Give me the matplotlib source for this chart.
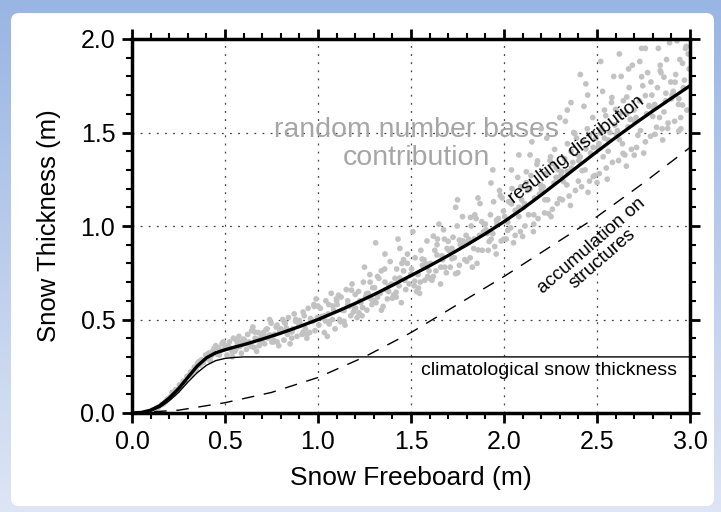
import numpy as np
import matplotlib
matplotlib.use('Agg')
import matplotlib.pyplot as plt
from matplotlib.patches import FancyBboxPatch

# curves (freeboard m -> thickness m)
res_x = [0.0, 0.05, 0.1, 0.15, 0.2, 0.25, 0.3, 0.35, 0.4, 0.45, 0.5, 0.55, 0.6, 0.7, 0.8, 0.9,
         1.0, 1.1, 1.2, 1.3, 1.4, 1.5, 1.6, 1.7, 1.8, 1.9, 2.0, 2.1, 2.2, 2.3, 2.4, 2.5,
         2.6, 2.7, 2.8, 2.9, 3.0]
res_y = [0.0, 0.003, 0.015, 0.04, 0.08, 0.13, 0.19, 0.25, 0.295, 0.322, 0.338, 0.352, 0.365,
         0.395, 0.427, 0.462, 0.5, 0.542, 0.586, 0.633, 0.683, 0.735, 0.787, 0.842, 0.899,
         0.959, 1.023, 1.092, 1.166, 1.243, 1.321, 1.398, 1.473, 1.545, 1.615, 1.683, 1.75]

clim_x = [0.0, 0.05, 0.1, 0.15, 0.2, 0.25, 0.3, 0.35, 0.4, 0.45, 0.5, 0.55, 0.6, 0.7, 3.0]
clim_y = [0.0, 0.002, 0.01, 0.03, 0.065, 0.11, 0.165, 0.215, 0.255, 0.28, 0.292, 0.297, 0.3, 0.3, 0.3]

acc_x = [0.0, 0.25, 0.5, 0.75, 1.0, 1.25, 1.5, 1.75, 2.0, 2.25, 2.5, 2.75, 3.0]
acc_y = [0.0, 0.015, 0.055, 0.11, 0.19, 0.3, 0.43, 0.58, 0.73, 0.89, 1.05, 1.23, 1.42]

# scattered "random" contributions, grouped by freeboard bin
sx = [0.11, 0.13, 0.14, 0.16, 0.17, 0.18, 0.19,
      0.205, 0.215, 0.225, 0.235, 0.245, 0.255, 0.265, 0.275, 0.285, 0.295,
      0.305, 0.315, 0.322, 0.335, 0.345, 0.352, 0.365, 0.374, 0.383, 0.396, 0.33, 0.36,
      0.405, 0.412, 0.425, 0.433, 0.441, 0.456, 0.463, 0.472, 0.484, 0.493, 0.42, 0.45, 0.47, 0.49,
      0.503, 0.511, 0.524, 0.532, 0.545, 0.553, 0.567, 0.575, 0.588, 0.596, 0.518, 0.54, 0.56, 0.58,
      0.604, 0.615, 0.622, 0.638, 0.643, 0.657, 0.662, 0.679, 0.684, 0.697, 0.628, 0.65, 0.67, 0.69,
      0.706, 0.713, 0.727, 0.731, 0.748, 0.752, 0.766, 0.775, 0.789, 0.794, 0.72, 0.74, 0.76, 0.78,
      0.803, 0.817, 0.824, 0.836, 0.841, 0.859, 0.865, 0.872, 0.887, 0.898, 0.81, 0.85, 0.88, 0.83,
      0.902, 0.914, 0.926, 0.933, 0.947, 0.955, 0.961, 0.978, 0.984, 0.996, 0.92, 0.94, 0.97, 0.99,
      1.005, 1.013, 1.021, 1.034, 1.042, 1.055, 1.063, 1.071, 1.084, 1.092, 1.036, 1.058, 1.078, 1.099, 1.05,
      1.103, 1.116, 1.124, 1.131, 1.145, 1.152, 1.168, 1.176, 1.183, 1.197, 1.11, 1.14, 1.16, 1.19,
      1.202, 1.218, 1.225, 1.237, 1.244, 1.256, 1.263, 1.279, 1.285, 1.294, 1.21, 1.23, 1.27, 1.29, 1.25,
      1.304, 1.312, 1.327, 1.335, 1.341, 1.358, 1.366, 1.373, 1.388, 1.395, 1.31, 1.32, 1.35, 1.38, 1.36,
      1.406, 1.414, 1.423, 1.436, 1.448, 1.451, 1.467, 1.472, 1.481, 1.499, 1.42, 1.44, 1.46, 1.49, 1.43,
      1.503, 1.517, 1.522, 1.538, 1.546, 1.553, 1.561, 1.574, 1.586, 1.597, 1.51, 1.53, 1.57, 1.59, 1.55,
      1.605, 1.613, 1.628, 1.634, 1.642, 1.659, 1.667, 1.675, 1.682, 1.694, 1.62, 1.65, 1.67, 1.69, 1.64,
      1.704, 1.711, 1.726, 1.733, 1.748, 1.752, 1.765, 1.777, 1.789, 1.796, 1.72, 1.74, 1.76, 1.78, 1.75,
      1.806, 1.818, 1.824, 1.837, 1.843, 1.855, 1.868, 1.871, 1.883, 1.894, 1.81, 1.83, 1.86, 1.89, 1.85,
      1.903, 1.915, 1.927, 1.931, 1.944, 1.958, 1.962, 1.976, 1.985, 1.997, 1.91, 1.93, 1.95, 1.97, 1.99, 1.94,
      2.004, 2.012, 2.025, 2.036, 2.043, 2.051, 2.066, 2.074, 2.088, 2.095, 2.02, 2.04, 2.06, 2.08, 2.09,
      2.106, 2.113, 2.127, 2.132, 2.145, 2.158, 2.164, 2.177, 2.183, 2.196, 2.11, 2.14, 2.16, 2.19, 2.15, 2.12,
      2.203, 2.218, 2.224, 2.235, 2.247, 2.253, 2.269, 2.272, 2.286, 2.291, 2.21, 2.23, 2.26, 2.28, 2.25,
      2.305, 2.314, 2.326, 2.338, 2.341, 2.357, 2.363, 2.375, 2.384, 2.398, 2.31, 2.33, 2.35, 2.37, 2.39, 2.34,
      2.402, 2.417, 2.423, 2.436, 2.448, 2.452, 2.465, 2.477, 2.489, 2.494, 2.41, 2.43, 2.46, 2.48, 2.45,
      2.504, 2.512, 2.526, 2.533, 2.547, 2.555, 2.561, 2.578, 2.583, 2.596, 2.51, 2.53, 2.55, 2.57, 2.59, 2.54,
      2.605, 2.616, 2.624, 2.637, 2.642, 2.658, 2.667, 2.673, 2.685, 2.699, 2.61, 2.63, 2.65, 2.68, 2.69, 2.66,
      2.703, 2.713, 2.728, 2.734, 2.746, 2.751, 2.767, 2.772, 2.788, 2.795, 2.71, 2.73, 2.76, 2.78, 2.74, 2.79,
      2.806, 2.812, 2.825, 2.836, 2.844, 2.853, 2.869, 2.874, 2.882, 2.897, 2.81, 2.83, 2.85, 2.87, 2.89, 2.84, 2.86,
      2.904, 2.917, 2.923, 2.938, 2.945, 2.951, 2.964, 2.976, 2.983, 2.995, 2.91, 2.93, 2.95, 2.97, 2.99, 2.94, 2.96,
      2.41, 2.44, 2.36, 2.52, 2.62, 2.30, 2.20, 2.08, 2.76, 2.67]
sy = [0.015, 0.025, 0.03, 0.045, 0.05, 0.06, 0.075,
      0.085, 0.11, 0.10, 0.125, 0.12, 0.15, 0.145, 0.17, 0.165, 0.195,
      0.20, 0.22, 0.205, 0.245, 0.23, 0.265, 0.255, 0.285, 0.27, 0.31, 0.225, 0.275,
      0.29, 0.32, 0.305, 0.33, 0.345, 0.315, 0.35, 0.33, 0.37, 0.34, 0.28, 0.36, 0.31, 0.38,
      0.36, 0.31, 0.38, 0.34, 0.40, 0.33, 0.37, 0.41, 0.32, 0.37, 0.35, 0.30, 0.39, 0.355,
      0.39, 0.34, 0.42, 0.37, 0.44, 0.35, 0.40, 0.43, 0.36, 0.41, 0.38, 0.46, 0.33, 0.385,
      0.43, 0.37, 0.45, 0.40, 0.48, 0.38, 0.42, 0.46, 0.36, 0.44, 0.41, 0.50, 0.39, 0.47,
      0.44, 0.39, 0.48, 0.42, 0.51, 0.40, 0.45, 0.53, 0.41, 0.47, 0.50, 0.37, 0.49, 0.455,
      0.48, 0.42, 0.52, 0.45, 0.56, 0.43, 0.50, 0.58, 0.44, 0.51, 0.54, 0.40, 0.49, 0.61,
      0.47, 0.56, 0.51, 0.43, 0.60, 0.53, 0.49, 0.64, 0.55, 0.45, 0.52, 0.58, 0.50, 0.61, 0.41,
      0.58, 0.50, 0.62, 0.55, 0.47, 0.66, 0.57, 0.52, 0.69, 0.56, 0.63, 0.49, 0.60, 0.54,
      0.56, 0.65, 0.60, 0.52, 0.70, 0.62, 0.55, 0.74, 0.61, 0.67, 0.51, 0.59, 0.64, 0.58, 0.78,
      0.67, 0.59, 0.72, 0.64, 0.55, 0.77, 0.66, 0.61, 0.81, 0.69, 0.91, 0.73, 0.57, 0.65, 0.85,
      0.63, 0.72, 0.77, 0.68, 0.59, 0.80, 0.71, 0.66, 0.85, 0.74, 0.62, 0.88, 0.76, 0.69, 0.93,
      0.77, 0.68, 0.83, 0.74, 0.64, 0.87, 0.79, 0.71, 0.92, 0.76, 0.97, 0.65, 0.82, 0.73, 0.70,
      0.80, 0.71, 0.87, 0.76, 0.93, 0.69, 0.84, 0.98, 0.78, 0.88, 0.73, 1.01, 0.82, 0.75, 0.90,
      0.87, 0.78, 0.94, 0.83, 1.00, 0.75, 0.90, 1.05, 0.82, 0.95, 0.88, 1.10, 0.79, 0.92, 1.14,
      0.91, 0.83, 1.00, 0.88, 1.06, 0.80, 0.95, 1.12, 0.87, 1.01, 0.93, 0.78, 1.15, 0.97, 1.04,
      0.98, 0.87, 1.06, 0.93, 1.13, 0.85, 1.01, 1.19, 0.92, 1.08, 0.96, 1.23, 0.89, 1.04, 1.15, 1.30,
      1.05, 0.93, 1.13, 0.99, 1.20, 0.91, 1.08, 1.26, 0.97, 1.14, 1.02, 1.30, 0.95, 1.10, 1.21,
      1.10, 1.00, 1.19, 1.06, 1.27, 0.97, 1.15, 1.33, 1.04, 1.22, 1.12, 1.38, 1.01, 1.17, 1.45, 1.29,
      1.19, 1.07, 1.28, 1.14, 1.35, 1.05, 1.23, 1.41, 1.12, 1.30, 1.21, 1.47, 1.09, 1.26, 1.37,
      1.27, 1.14, 1.36, 1.22, 1.44, 1.11, 1.31, 1.50, 1.19, 1.38, 1.29, 1.56, 1.16, 1.34, 1.47, 1.62,
      1.35, 1.21, 1.45, 1.30, 1.52, 1.18, 1.39, 1.58, 1.27, 1.47, 1.37, 1.64, 1.24, 1.42, 1.70,
      1.42, 1.28, 1.52, 1.37, 1.59, 1.25, 1.46, 1.66, 1.34, 1.54, 1.44, 1.72, 1.31, 1.50, 1.80, 1.62,
      1.49, 1.35, 1.60, 1.44, 1.67, 1.32, 1.53, 1.74, 1.41, 1.62, 1.51, 1.80, 1.38, 1.57, 1.86, 1.69,
      1.56, 1.42, 1.67, 1.51, 1.75, 1.39, 1.60, 1.82, 1.48, 1.70, 1.58, 1.88, 1.45, 1.64, 1.95, 1.77,
      1.63, 1.49, 1.74, 1.58, 1.82, 1.46, 1.67, 1.89, 1.55, 1.77, 1.65, 1.95, 1.52, 1.71, 1.98, 1.86, 1.61,
      1.70, 1.56, 1.81, 1.65, 1.89, 1.52, 1.74, 1.95, 1.62, 1.84, 1.72, 1.99, 1.58, 1.78, 1.92, 1.68, 1.87,
      1.81, 1.76, 1.66, 1.88, 1.92, 1.58, 1.52, 1.38, 1.95, 1.84]

# denser core of the cloud, close to the resulting curve
cx = [0.52, 0.56, 0.60, 0.64, 0.68, 0.72, 0.76, 0.80, 0.84, 0.88, 0.92, 0.96, 1.00, 1.04, 1.08,
      1.12, 1.16, 1.20, 1.24, 1.28, 1.32, 1.36, 1.40, 1.44, 1.48, 1.52, 1.56, 1.60, 1.64, 1.68,
      1.72, 1.76, 1.80, 1.84, 1.88, 1.92, 1.96, 2.00, 2.04, 2.08, 2.12, 2.16, 2.20, 2.24, 2.28,
      2.32, 2.36, 2.40, 2.44, 2.48, 2.52, 2.56, 2.60, 2.64, 2.68, 2.72, 2.76, 2.80, 2.84, 2.88,
      2.92, 2.96,
      0.54, 0.58, 0.62, 0.66, 0.70, 0.74, 0.78, 0.82, 0.86, 0.90, 0.94, 0.98, 1.02, 1.06, 1.10,
      1.14, 1.18, 1.22, 1.26, 1.30, 1.34, 1.38, 1.42, 1.46, 1.50, 1.54, 1.58, 1.62, 1.66, 1.70,
      1.74, 1.78, 1.82, 1.86, 1.90, 1.94, 1.98, 2.02, 2.06, 2.10, 2.14, 2.18, 2.22, 2.26, 2.30,
      2.34, 2.38, 2.42, 2.46, 2.50, 2.54, 2.58, 2.62, 2.66, 2.70, 2.74, 2.78, 2.82, 2.86, 2.90,
      2.94, 2.98]
cy = [0.355, 0.344, 0.395, 0.357, 0.394, 0.445, 0.38, 0.45, 0.433, 0.50, 0.433, 0.505, 0.572,
      0.492, 0.572, 0.488, 0.581, 0.634, 0.564, 0.70, 0.62, 0.70, 0.614, 0.722, 0.80, 0.705,
      0.823, 0.72, 0.845, 0.93, 0.825, 0.925, 0.811, 0.931, 1.023, 0.917, 1.031, 0.93, 1.118,
      1.05, 1.232, 1.06, 1.196, 1.066, 1.314, 1.237, 1.40, 1.24, 1.412, 1.264, 1.498, 1.40,
      1.624, 1.388, 1.57, 1.485, 1.697, 1.586, 1.83, 1.522, 1.769, 1.647,
      0.325, 0.38, 0.371, 0.433, 0.38, 0.418, 0.38, 0.486, 0.434, 0.495, 0.42, 0.57, 0.516,
      0.476, 0.60, 0.548, 0.657, 0.536, 0.637, 0.60, 0.76, 0.68, 0.646, 0.82, 0.742, 0.668,
      0.798, 0.946, 0.78, 0.918, 0.745, 0.897, 1.046, 0.872, 1.01, 0.959, 1.163, 0.976, 1.084,
      0.944, 1.197, 1.348, 1.14, 1.334, 1.145, 1.291, 1.494, 1.296, 1.488, 1.232, 1.47, 1.687,
      1.462, 1.60, 1.379, 1.798, 1.644, 1.528, 1.796, 1.68, 1.508, 1.961]

xticks = [0.0, 0.5, 1.0, 1.5, 2.0, 2.5, 3.0]
yticks = [0.0, 0.5, 1.0, 1.5, 2.0]

narrow = ['Liberation Sans Narrow', 'Liberation Sans', 'DejaVu Sans']
plain = ['Liberation Sans', 'DejaVu Sans']

W, H = 721, 512
fig = plt.figure(figsize=(W / 100, H / 100), dpi=100)

# blue gradient frame + white rounded panel
bg = fig.add_axes([0, 0, 1, 1], zorder=0)
top_c = np.array([0.60, 0.71, 0.89])
bot_c = np.array([0.87, 0.90, 0.96])
t = np.linspace(0, 1, 256)[:, None]
grad = (top_c[None, :] * (1 - t) + bot_c[None, :] * t)[:, None, :]
bg.imshow(grad, extent=[0, W, H, 0], aspect='auto')
bg.add_patch(FancyBboxPatch((11, 13), 703, 493, boxstyle='round,pad=0,rounding_size=8',
                            facecolor='white', edgecolor='none'))
bg.set_xlim(0, W)
bg.set_ylim(H, 0)
bg.axis('off')

ax = fig.add_axes([132 / W, (H - 413) / H, 558 / W, 374 / H], zorder=1)
ax.set_facecolor('none')

ax.scatter(sx, sy, s=17, color='#c2c2c2', edgecolors='none', zorder=2)
ax.scatter(cx, cy, s=17, color='#c2c2c2', edgecolors='none', zorder=2)
ax.plot(acc_x, acc_y, color='black', lw=1.0, dashes=(9, 7), zorder=3)
ax.plot(clim_x, clim_y, color='black', lw=1.0, zorder=3)
ax.plot(res_x, res_y, color='black', lw=2.4, zorder=4, solid_joinstyle='round')

ax.set_xlim(0, 3.0)
ax.set_ylim(0, 2.0)
ax.set_xticks(xticks)
ax.set_yticks(yticks)
ax.set_xticks(np.arange(0, 3.01, 0.1), minor=True)
ax.set_yticks(np.arange(0, 2.01, 0.1), minor=True)
ax.set_xticklabels([f'{v:.1f}' for v in xticks])
ax.set_yticklabels([f'{v:.1f}' for v in yticks])
ax.tick_params(which='both', direction='out', top=True, right=True, color='black')
ax.tick_params(which='major', length=7, width=2, pad=5, labelsize=18)
ax.tick_params(which='minor', length=4, width=1.5)
for lab in ax.get_xticklabels() + ax.get_yticklabels():
    lab.set_family(narrow)
for sp in ax.spines.values():
    sp.set_linewidth(2.5)

ax.grid(True, which='major', color='#444444', lw=0.9, linestyle=(0, (1.5, 5)))
ax.set_axisbelow(True)

ax.set_xlabel('Snow Freeboard (m)', fontsize=19, family=narrow, labelpad=9)
ax.set_ylabel('Snow Thickness (m)', fontsize=18.5, family=narrow, labelpad=14)

ax.text(1.53, 1.44, 'random number bases\ncontribution', color='#a6a6a6', fontsize=20.5,
        family=plain, ha='center', va='center', linespacing=1.1, zorder=1)
ax.text(2.39, 1.41, 'resulting distribution', fontsize=13.5, family=plain, rotation=37.5,
        rotation_mode='anchor', ha='center', va='center', zorder=5)
ax.text(2.50, 0.86, 'accumulation on\nstructures', fontsize=13.5, family=plain, rotation=41,
        rotation_mode='anchor', ha='center', va='center', linespacing=1.0, zorder=5)
ax.text(2.24, 0.225, 'climatological snow thickness', fontsize=14, family=plain,
        ha='center', va='center', zorder=5)

fig.savefig('out.png', dpi=100)
